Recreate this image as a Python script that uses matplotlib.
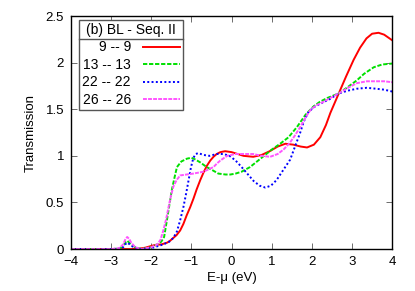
import matplotlib
matplotlib.use('Agg')
import matplotlib.pyplot as plt
from matplotlib.lines import Line2D

plt.rcParams['font.family'] = ['Liberation Sans', 'DejaVu Sans']
plt.rcParams['font.size'] = 9.5

# 9 -- 9
x_red = [-4, -3.0, -2.5, -2.3, -2.15, -2.03, -1.9, -1.75, -1.6, -1.53, -1.45, -1.37,
         -1.28, -1.2, -1.12, -1.03, -0.95, -0.87, -0.78, -0.7, -0.62, -0.53, -0.45,
         -0.37, -0.28, -0.16, 0.0, 0.15, 0.3, 0.54, 0.75, 0.95, 1.15, 1.34, 1.54,
         1.72, 1.88, 2.05, 2.21, 2.35, 2.46, 2.57, 2.67, 2.85, 3.04, 3.2, 3.36, 3.5,
         3.66, 3.8, 3.9, 4.0]
y_red = [0, 0, 0.0, 0.005, 0.015, 0.03, 0.045, 0.05, 0.07, 0.09, 0.12, 0.15,
         0.2, 0.27, 0.36, 0.45, 0.54, 0.64, 0.74, 0.82, 0.89, 0.95, 0.99,
         1.02, 1.04, 1.05, 1.04, 1.02, 1.0, 0.99, 1.01, 1.05, 1.1, 1.13, 1.12,
         1.10, 1.09, 1.12, 1.20, 1.33, 1.46, 1.57, 1.67, 1.85, 2.03, 2.16, 2.26, 2.31,
         2.32, 2.30, 2.27, 2.24]

# 13 -- 13
x_green = [-4, -3.0, -2.8, -2.7, -2.65, -2.6, -2.55, -2.5, -2.4, -2.25, -2.0, -1.85,
           -1.75, -1.68, -1.61, -1.55, -1.49, -1.42, -1.36, -1.25, -1.11, -1.0, -0.9,
           -0.78, -0.62, -0.45, -0.33, -0.15, -0.03, 0.1, 0.25, 0.46, 0.75, 1.01,
           1.21, 1.42, 1.63, 1.84, 2.04, 2.2, 2.38, 2.67, 2.9, 3.12, 3.3, 3.54, 3.75,
           4.0]
y_green = [0, 0, 0.005, 0.03, 0.07, 0.09, 0.07, 0.05, 0.02, 0.0, 0.02, 0.05,
           0.08, 0.13, 0.31, 0.47, 0.63, 0.77, 0.88, 0.94, 0.97, 0.98, 0.96,
           0.93, 0.88, 0.84, 0.81, 0.80, 0.80, 0.81, 0.83, 0.88, 0.98, 1.07,
           1.13, 1.2, 1.31, 1.44, 1.53, 1.58, 1.62, 1.67, 1.74, 1.81, 1.88, 1.95, 1.98,
           1.99]

# 22 -- 22
x_blue = [-4, -3.0, -2.8, -2.7, -2.65, -2.6, -2.55, -2.5, -2.4, -2.25, -2.0, -1.85,
          -1.7, -1.55, -1.45, -1.36, -1.28, -1.2, -1.13, -1.07, -1.01, -0.95, -0.89,
          -0.83, -0.7, -0.55, -0.37, -0.2, -0.05, 0.1, 0.25, 0.39, 0.55, 0.7, 0.84,
          0.98, 1.12, 1.29, 1.46, 1.58, 1.71, 1.8, 1.9, 2.04, 2.21, 2.45, 2.67, 2.9,
          3.12, 3.37, 3.6, 3.8, 4.0]
y_blue = [0, 0, 0.005, 0.02, 0.05, 0.07, 0.055, 0.035, 0.015, 0.0, 0.01, 0.03,
          0.05, 0.08, 0.12, 0.19, 0.31, 0.45, 0.6, 0.74, 0.88, 0.98, 1.02,
          1.03, 1.01, 1.0, 1.02, 1.02, 1.0, 0.95, 0.88, 0.81, 0.73, 0.68, 0.66,
          0.68, 0.74, 0.85, 0.96, 1.1, 1.25, 1.37, 1.46, 1.52, 1.56, 1.61, 1.67, 1.7,
          1.72, 1.73, 1.72, 1.71, 1.69]

# 26 -- 26
x_mag = [-4, -3.0, -2.8, -2.7, -2.65, -2.6, -2.55, -2.5, -2.4, -2.25, -2.0, -1.85,
         -1.77, -1.7, -1.63, -1.57, -1.51, -1.45, -1.37, -1.28, -1.12, -0.95, -0.7,
         -0.55, -0.45, -0.36, -0.28, -0.11, 0.1, 0.3, 0.54, 0.75, 0.96, 1.15, 1.3,
         1.45, 1.58, 1.71, 1.84, 1.96, 2.1, 2.29, 2.5, 2.67, 2.9, 3.12, 3.37, 3.6,
         3.8, 4.0]
y_mag = [0, 0, 0.01, 0.05, 0.1, 0.13, 0.11, 0.07, 0.02, 0.0, 0.02, 0.05,
         0.1, 0.2, 0.32, 0.45, 0.57, 0.67, 0.74, 0.79, 0.80, 0.81, 0.83,
         0.86, 0.88, 0.92, 0.95, 1.0, 1.02, 1.02, 1.02, 1.0, 0.99, 1.02, 1.07,
         1.14, 1.22, 1.31, 1.41, 1.49, 1.54, 1.58, 1.63, 1.67, 1.73, 1.78, 1.80, 1.80,
         1.80, 1.79]

labels = ['9 -- 9', '13 -- 13', '22 -- 22', '26 -- 26']

fig = plt.figure(figsize=(4.15, 2.91), dpi=100)
ax = fig.add_axes([0.171, 0.144, 0.774, 0.801])

ax.plot(x_red, y_red, color='#ff0000', lw=1.4, ls='-', label=labels[0])
ax.plot(x_green, y_green, color='#00e000', lw=1.4, ls=(0, (2.2, 0.9)), label=labels[1])
ax.plot(x_blue, y_blue, color='#0000ff', lw=1.4, ls=(0, (1, 1.2)), label=labels[2])
ax.plot(x_mag, y_mag, color='#ff55ff', lw=1.4, ls=(0, (2, 0.6)), label=labels[3])

ax.set_xlim(-4, 4)
ax.set_ylim(0, 2.5)
ax.set_xticks(range(-4, 5))
ax.set_yticks([0, 0.5, 1, 1.5, 2, 2.5])
ax.set_yticklabels(['0', '0.5', '1', '1.5', '2', '2.5'])
ax.tick_params(direction='in', top=True, right=True, length=4, width=0.6,
               color='#555555', labelsize=9.5, pad=5)
for s in ax.spines.values():
    s.set_linewidth(1.0)

ax.set_xlabel('E-\u03bc (eV)', fontsize=9.5, labelpad=3)
ax.set_ylabel('Transmission', fontsize=9.5, labelpad=6)

leg = ax.legend(loc='upper left', bbox_to_anchor=(0.025, 0.985), markerfirst=False,
                title='(b) BL - Seq. II', title_fontsize=10, fontsize=10,
                frameon=True, fancybox=False, edgecolor='#555555', framealpha=1,
                handlelength=2.6, handletextpad=0.9, labelspacing=0.25,
                borderpad=0.25, borderaxespad=0)
leg.get_frame().set_linewidth(1.0)

fig.canvas.draw()
bb = leg.get_frame().get_window_extent()
tb = leg.get_title().get_window_extent()
ysep = tb.y0 - 2
inv = fig.transFigure.inverted()
(x0, y0) = inv.transform((bb.x0, ysep))
(x1, _) = inv.transform((bb.x1, ysep))
fig.add_artist(Line2D([x0, x1], [y0, y0], color='#555555', lw=1.0))

fig.savefig('out.png', dpi=100)
